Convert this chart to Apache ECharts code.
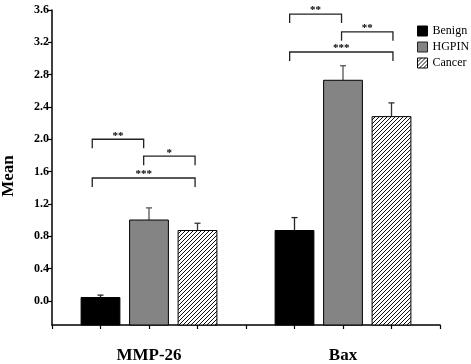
<!DOCTYPE html>
<html><head><meta charset="utf-8">
<script src="https://cdn.jsdelivr.net/npm/echarts@6/dist/echarts.min.js"></script>
<style>html,body{margin:0;padding:0;background:#fff}#c{width:471px;height:364px}</style>
</head><body><div id="c"></div>
<script>
// ---- data ----
const groups = ['MMP-26', 'Bax'];
const groupPos = [2, 6];
const seriesNames = ['Benign', 'HGPIN', 'Cancer'];
const benign = [0.04, 0.87];
const benignErr = [0.03, 0.16];
const hgpin = [1.00, 2.73];
const hgpinErr = [0.15, 0.18];
const cancer = [0.87, 2.28];
const cancerErr = [0.09, 0.17];
const yTicks = [0.0, 0.4, 0.8, 1.2, 1.6, 2.0, 2.4, 2.8, 3.2, 3.6];
const bracketX1 = [0.83, 1.89, 0.83, 4.90, 5.97, 4.90];
const bracketX2 = [1.89, 2.95, 2.95, 5.97, 7.03, 7.03];
const bracketY = [2.00, 1.79, 1.52, 3.55, 3.33, 3.08];
const bracketLabels = ['**', '*', '***', '**', '**', '***'];

const Y_MIN = -0.3, Y_MAX = 3.6;
const BAR_W = 0.8;
const FONT = "'Liberation Serif', 'Times New Roman', serif";

// hatch pattern
const pc = document.createElement('canvas');
pc.width = 4; pc.height = 4;
const ctx = pc.getContext('2d');
ctx.fillStyle = '#fff'; ctx.fillRect(0, 0, 4, 4);
ctx.strokeStyle = '#111'; ctx.lineWidth = 1.0;
ctx.beginPath();
ctx.moveTo(-1, 5); ctx.lineTo(5, -1);
ctx.moveTo(-1, 1); ctx.lineTo(1, -1);
ctx.moveTo(3, 5); ctx.lineTo(5, 3);
ctx.stroke();
const hatch = { image: pc, repeat: 'repeat' };

const fills = ['#000000', '#848484', hatch];
const errColors = ['#222', '#555', '#333'];

function barSeries(k, vals, errs, offset) {
  return {
    type: 'custom', name: seriesNames[k],
    itemStyle: { color: fills[k] },
    data: groupPos.map((g, i) => [g + offset, vals[i], errs[i]]),
    renderItem: function (params, api) {
      const x = api.value(0), v = api.value(1), e = api.value(2);
      const base = api.coord([x, Y_MIN]);
      const top = api.coord([x, v]);
      const cap = api.coord([x, v + e]);
      const w = api.size([BAR_W, 0])[0];
      const ec = errColors[k];
      return { type: 'group', children: [
        { type: 'line', shape: { x1: top[0], y1: top[1], x2: cap[0], y2: cap[1] }, style: { stroke: ec, lineWidth: 1.3 } },
        { type: 'line', shape: { x1: cap[0] - 3, y1: cap[1], x2: cap[0] + 3, y2: cap[1] }, style: { stroke: ec, lineWidth: 1.3 } },
        { type: 'rect', shape: { x: top[0] - w / 2, y: top[1], width: w, height: base[1] - top[1] },
          style: { fill: fills[k], stroke: '#000', lineWidth: 1 } }
      ]};
    }
  };
}

const bracketData = bracketX1.map((x1, i) => [x1, bracketX2[i], bracketY[i]]);

const chart = echarts.init(document.getElementById('c'), null, { renderer: 'canvas' });
chart.setOption({
  animation: false,
  backgroundColor: '#fff',
  textStyle: { fontFamily: FONT },
  grid: { left: 52, right: 31, top: 10, bottom: 38 },
  legend: {
    orient: 'vertical', left: 417, top: 25, padding: 0,
    itemWidth: 10, itemHeight: 10, itemGap: 4,
    textStyle: { fontFamily: FONT, fontSize: 12, color: '#000' },
    data: [
      { name: 'Benign', icon: 'rect', itemStyle: { color: '#000', borderColor: '#000', borderWidth: 1 } },
      { name: 'HGPIN', icon: 'rect', itemStyle: { color: '#848484', borderColor: '#222', borderWidth: 1 } },
      { name: 'Cancer', icon: 'rect', itemStyle: { color: hatch, borderColor: '#000', borderWidth: 1 } }
    ]
  },
  xAxis: {
    type: 'value', min: 0, max: 8, interval: 1,
    axisLine: { show: true, onZero: false, lineStyle: { color: '#000', width: 1.5 } },
    axisTick: { show: true, length: 4, inside: false, lineStyle: { color: '#000', width: 1.2 } },
    splitLine: { show: false },
    axisLabel: {
      margin: 22, fontFamily: FONT, fontSize: 17, fontWeight: 'bold', color: '#000',
      showMinLabel: true, showMaxLabel: true,
      formatter: function (v) { const i = groupPos.indexOf(v); return i >= 0 ? groups[i] : ''; }
    }
  },
  yAxis: {
    type: 'value', min: Y_MIN, max: Y_MAX,
    axisLine: { show: true, onZero: false, lineStyle: { color: '#000', width: 1.5 } },
    axisTick: { show: true, length: 4, inside: false, customValues: yTicks, lineStyle: { color: '#000', width: 1.2 } },
    splitLine: { show: false },
    axisLabel: {
      margin: 3, fontFamily: FONT, fontSize: 12, fontWeight: 'bold', color: '#000',
      customValues: yTicks,
      formatter: function (v) { return v.toFixed(1); }
    }
  },
  graphic: [{
    type: 'text', x: 9, y: 176, rotation: Math.PI / 2,
    style: { text: 'Mean', fontFamily: FONT, fontSize: 17, fontWeight: 'bold', fill: '#000', align: 'center', verticalAlign: 'middle' }
  }],
  series: [
    barSeries(0, benign, benignErr, -1),
    barSeries(1, hgpin, hgpinErr, 0),
    barSeries(2, cancer, cancerErr, 1),
    {
      type: 'custom', silent: true,
      data: bracketData,
      renderItem: function (params, api) {
        const p1 = api.coord([api.value(0), api.value(2)]);
        const p2 = api.coord([api.value(1), api.value(2)]);
        const drop = 9;
        return { type: 'group', children: [
          { type: 'polyline', shape: { points: [[p1[0], p1[1] + drop], [p1[0], p1[1]], [p2[0], p2[1]], [p2[0], p2[1] + drop]] },
            style: { stroke: '#222', lineWidth: 1.3, fill: null } },
          { type: 'text', x: (p1[0] + p2[0]) / 2, y: p1[1] + 2,
            style: { text: bracketLabels[params.dataIndex], fontFamily: FONT, fontSize: 11, fontWeight: 'bold', fill: '#000', align: 'center', verticalAlign: 'bottom' } }
        ]};
      }
    }
  ]
});
</script>
</body></html>
